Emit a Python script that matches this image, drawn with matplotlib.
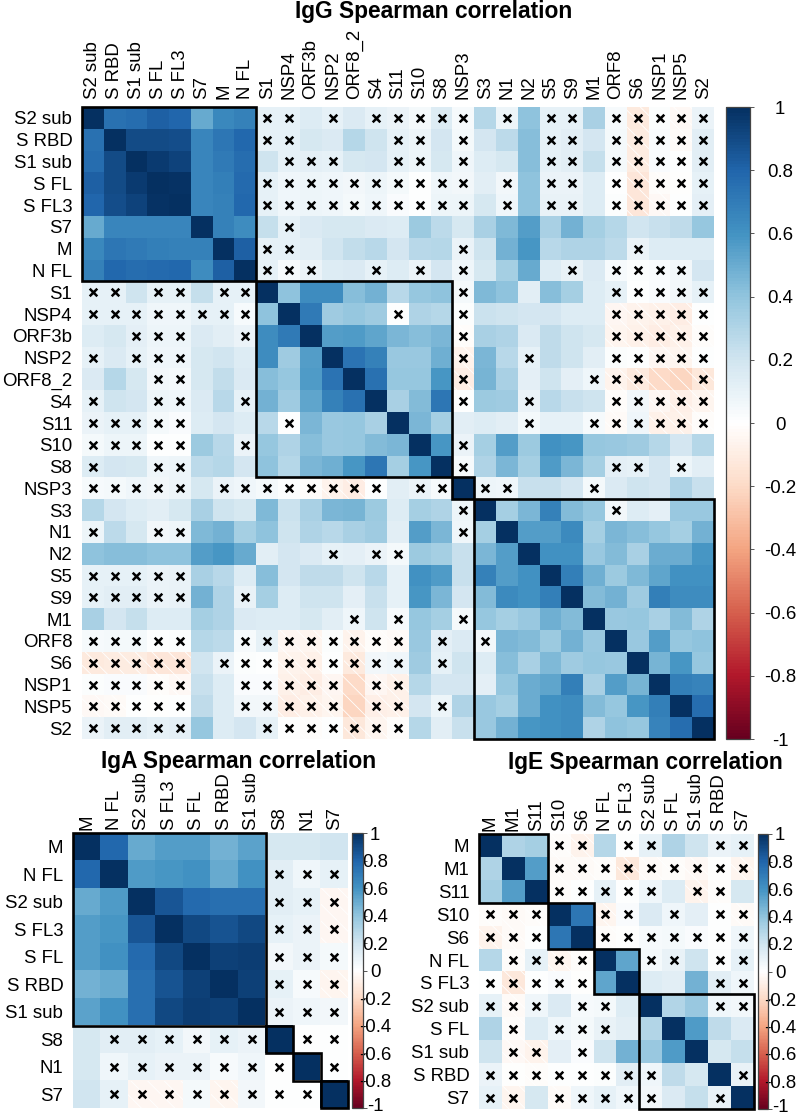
import numpy as np
import matplotlib
matplotlib.use("Agg")
import matplotlib.pyplot as plt
from matplotlib.colors import LinearSegmentedColormap
from matplotlib.patches import Rectangle
from matplotlib.transforms import ScaledTranslation

plt.rcParams['font.family'] = ['Liberation Sans', 'DejaVu Sans']
plt.rcParams['hatch.linewidth'] = 0.6

W, H = 797, 1116

# --- IgG: upper triangle, one list per row, diagonal left out
igg_labels = ['S2 sub', 'S RBD', 'S1 sub', 'S FL', 'S FL3', 'S7', 'M', 'N FL', 'S1', 'NSP4', 'ORF3b',
              'NSP2', 'ORF8_2', 'S4', 'S11', 'S10', 'S8', 'NSP3', 'S3', 'N1', 'N2', 'S5', 'S9', 'M1',
              'ORF8', 'S6', 'NSP1', 'NSP5', 'S2']
igg_upper = [
    [.74, .76, .82, .79, .50, .64, .67, .10, .10, .14, .10, .16, .10, .08, .04, .15, .03, .28, .07, .40, .10, .10, .32, .03, -.12, .01, -.04, .08],
    [.89, .89, .88, .65, .72, .78, .10, .10, .17, .16, .28, .20, .10, .07, .18, .04, .18, .26, .42, .10, .12, .18, .04, -.11, .02, -.03, .12],
    [.95, .92, .65, .70, .76, .20, .10, .11, .10, .17, .18, .10, .07, .17, .06, .15, .17, .42, .10, .13, .23, .04, -.11, .02, .00, .13],
    [.98, .65, .68, .77, .10, .06, .07, .06, .05, .07, .04, .00, .06, .05, .13, .05, .40, .08, .08, .14, .00, -.14, -.02, -.01, .10],
    [.65, .67, .78, .10, .06, .07, .06, .04, .06, .02, .00, .07, .07, .17, .06, .40, .09, .09, .15, .01, -.14, -.04, .00, .11],
    [.67, .62, .23, .10, .16, .17, .17, .16, .15, .36, .26, .17, .32, .44, .55, .32, .47, .33, .28, .19, .22, .25, .38],
    [.82, .10, .10, .13, .19, .24, .27, .18, .27, .28, .08, .20, .47, .58, .27, .30, .30, .26, .08, .14, .15, .15],
    [.10, .03, .08, .14, .16, .10, .15, .08, .18, .06, .17, .33, .50, .14, .09, .16, .03, .01, .02, .05, .18],
    [.40, .62, .62, .42, .47, .27, .38, .40, .04, .44, .40, .13, .42, .33, .15, .10, .00, .02, .05, .10],
    [.70, .35, .38, .35, .00, .30, .28, .01, .21, .20, .18, .18, .15, .15, -.05, -.07, -.08, -.10, .00],
    [.55, .57, .52, .45, .42, .45, -.02, .32, .30, .16, .25, .20, .17, -.06, -.08, -.10, -.08, -.02],
    [.73, .67, .37, .37, .48, -.07, .45, .27, .10, .25, .20, .13, .01, .00, -.05, -.06, .00],
    [.74, .38, .38, .58, -.10, .46, .32, .11, .20, .11, .06, -.07, -.12, -.20, -.22, -.13],
    [.32, .43, .72, .00, .36, .35, .08, .27, .22, .20, -.02, .05, -.05, -.09, -.06],
    [.45, .33, .13, .14, .13, .04, .10, .10, .03, -.03, .06, -.08, -.08, -.02],
    [.58, .08, .33, .55, .36, .60, .58, .38, .37, .35, .28, .18, .28],
    [.03, .30, .45, .33, .56, .45, .33, .11, .10, .18, .07, .13],
    [.07, .06, .22, .22, .18, .04, .16, .20, .18, .30, .22],
    [.33, .45, .67, .43, .38, .05, .15, .11, .37, .37],
    [.55, .55, .63, .33, .45, .42, .38, .33, .47],
    [.60, .60, .37, .43, .32, .49, .49, .58],
    [.68, .48, .36, .44, .52, .60, .60],
    [.43, .47, .35, .68, .62, .62],
    [.37, .38, .32, .43, .30],
    [.37, .55, .38, .40],
    [.46, .58, .38],
    [.68, .66],
    [.76],
]
# non significant pairs: row index -> column indices
igg_nonsig = {
    0: [8, 9, 11, 13, 14, 15, 16, 17, 19, 21, 22, 24, 25, 26, 27, 28],
    1: [8, 9, 14, 15, 17, 21, 22, 24, 25, 26, 27, 28],
    2: [9, 10, 11, 14, 15, 17, 21, 22, 24, 25, 26, 27, 28],
    3: [8, 9, 10, 11, 12, 13, 14, 15, 16, 17, 19, 21, 22, 24, 25, 26, 27, 28],
    4: [8, 9, 10, 11, 12, 13, 14, 15, 16, 17, 19, 21, 22, 24, 25, 26, 27, 28],
    5: [9],
    6: [8, 9, 17, 25],
    7: [8, 9, 10, 13, 15, 17, 22, 24, 25, 26, 27],
    8: [17, 24, 25, 26, 27, 28],
    9: [14, 17, 24, 25, 26, 27, 28],
    10: [17, 24, 25, 26, 27, 28],
    11: [17, 20, 24, 25, 26, 27, 28],
    12: [17, 23, 24, 25, 28],
    13: [17, 20, 24, 25, 26, 27, 28],
    14: [20, 23, 24, 25, 26, 27, 28],
    15: [17],
    16: [17, 24, 25, 27],
    17: [18, 19, 23],
    18: [24],
}
igg_boxes = [(0, 7), (8, 16), (17, 17), (18, 28)]

# --- IgA
iga_labels = ['M', 'N FL', 'S2 sub', 'S FL3', 'S FL', 'S RBD', 'S1 sub', 'S8', 'N1', 'S7']
iga_upper = [
    [.78, .50, .55, .55, .47, .53, .17, .17, .19],
    [.57, .58, .60, .50, .60, .13, .06, .10],
    [.85, .77, .75, .75, .12, .10, -.05],
    [.90, .86, .90, .10, .08, -.05],
    [.93, .94, .05, .08, .04],
    [.93, .10, .03, -.06],
    [.08, .06, .05],
    [.00, .00],
    [.00],
]
iga_nonsig = {
    1: [7, 8, 9],
    2: [7, 8, 9],
    3: [7, 8, 9],
    4: [7, 8, 9],
    5: [7, 8, 9],
    6: [7, 8, 9],
    7: [8, 9],
    8: [9],
}
iga_boxes = [(0, 6), (7, 7), (8, 8), (9, 9)]

# --- IgE
ige_labels = ['M', 'M1', 'S11', 'S10', 'S6', 'N FL', 'S FL3', 'S2 sub', 'S FL', 'S1 sub', 'S RBD', 'S7']
ige_upper = [
    [.30, .33, -.02, -.07, .28, .00, .10, .30, .20, .08, .10],
    [.55, -.03, -.03, -.02, -.13, -.03, -.02, -.04, -.01, -.06],
    [-.02, .00, .10, .00, .06, .14, -.07, -.02, .17],
    [.72, -.06, .02, .16, .06, .11, .00, -.03],
    [-.02, -.01, .03, .04, .02, .00, .06],
    [.52, .04, .09, .20, .01, .10],
    [.15, .13, .47, .12, .06],
    [.29, .37, .06, .05],
    [.57, .25, .16],
    [.17, .23],
    [.09],
]
ige_nonsig = {
    0: [3, 4, 6, 7, 10, 11],
    1: [3, 4, 5, 6, 7, 8, 9, 10, 11],
    2: [3, 4, 5, 6, 7, 9, 10],
    3: [5, 6, 8, 10, 11],
    4: [5, 6, 7, 8, 9, 10, 11],
    5: [7, 8, 10, 11],
    6: [10, 11],
    7: [10, 11],
    10: [11],
}
ige_boxes = [(0, 2), (3, 4), (5, 6), (7, 11)]

cbar_ticks = [-1, -.8, -.6, -.4, -.2, 0, .2, .4, .6, .8, 1]
cbar_ticklabels = ['-1', '-0.8', '-0.6', '-0.4', '-0.2', '0', '0.2', '0.4', '0.6', '0.8', '1']

rdbu = LinearSegmentedColormap.from_list('rdbu', ['#67001F', '#B2182B', '#D6604D', '#F4A582', '#FDDBC7', '#FFFFFF',
                                                  '#D1E5F0', '#92C5DE', '#4393C3', '#2166AC', '#053061'], N=200)


def px_rect(x0, y0, x1, y1):
    return [x0 / W, 1 - y1 / H, (x1 - x0) / W, (y1 - y0) / H]


def full_matrix(upper):
    n = len(upper) + 1
    m = np.eye(n)
    for i, row in enumerate(upper):
        for k, v in enumerate(row):
            m[i, i + 1 + k] = v
            m[i + 1 + k, i] = v
    return m


def corrplot(fig, labels, upper, nonsig, boxes, rect, cbar_rect, label_center, xpad, ypad):
    m = full_matrix(upper)
    n = len(labels)
    ax = fig.add_axes(px_rect(*rect))
    im = ax.imshow(m, cmap=rdbu, vmin=-1, vmax=1, aspect='auto', interpolation='nearest')

    # negative cells get the white diagonal stripes
    for i in range(n):
        for j in range(n):
            if m[i, j] < -0.015:
                ax.add_patch(Rectangle((j - .5, i - .5), 1, 1, facecolor='none', edgecolor='white',
                                       hatch='\\\\', linewidth=0))

    rows, cols = [], []
    for i, js in nonsig.items():
        for j in js:
            rows += [i, j]
            cols += [j, i]
    ax.scatter(cols, rows, marker='x', s=30, linewidths=1.8, color='black', zorder=3)

    for s, e in boxes:
        ax.add_patch(Rectangle((s - .5, s - .5), e - s + 1, e - s + 1, fill=False, edgecolor='black',
                               linewidth=1.9, clip_on=False, zorder=4))

    ax.set_xticks(range(n))
    ax.set_yticks(range(n))
    ax.set_xticklabels(labels, rotation=90, fontsize=13.4)
    ax.set_yticklabels(labels, fontsize=13.4)
    ax.xaxis.tick_top()
    ax.tick_params(axis='x', length=0, pad=xpad)
    ax.tick_params(axis='y', length=0, pad=ypad)
    for sp in ax.spines.values():
        sp.set_visible(False)
    ax.set_xlim(-.5, n - .5)
    ax.set_ylim(n - .5, -.5)

    cax = fig.add_axes(px_rect(*cbar_rect))
    cb = fig.colorbar(im, cax=cax, ticks=cbar_ticks)
    cb.ax.set_yticklabels(cbar_ticklabels, fontsize=13.4, ha='center')
    cb.outline.set_edgecolor('#444444')
    cb.outline.set_linewidth(0.9)
    # px to points: labels are centred, so the pad runs up to the text centre
    cb.ax.tick_params(length=3, width=0.7, color='#555555', pad=(label_center - cbar_rect[2] - 4) * 0.72)
    return cb


fig = plt.figure(figsize=(W / 100, H / 100), dpi=100)

corrplot(fig, igg_labels, igg_upper, igg_nonsig, igg_boxes, (82, 107, 714, 739), (726, 107, 750, 739), 780, 5.5, 7)
cb_a = corrplot(fig, iga_labels, iga_upper, iga_nonsig, iga_boxes, (73, 833, 348, 1108), (352, 833, 363, 1108), 375, 2, 7)
cb_e = corrplot(fig, ige_labels, ige_upper, ige_nonsig, ige_boxes, (479, 834, 754, 1109), (758, 834, 768, 1109), 780, 2, 7)

# the -1 labels sit right at the bottom edge, lift them a little
for cb in [cb_a, cb_e]:
    lab = cb.ax.get_yticklabels()[0]
    lab.set_transform(lab.get_transform() + ScaledTranslation(0, 2.5 / 72, fig.dpi_scale_trans))

titles = ['IgG Spearman correlation', 'IgA Spearman correlation', 'IgE Spearman correlation']
for t, x, y in zip(titles, [434, 239, 645], [18, 768, 769]):
    fig.text(x / W, 1 - y / H, t, fontsize=16.4, fontweight='bold', ha='center', va='baseline')

fig.savefig('out.png', dpi=100)
